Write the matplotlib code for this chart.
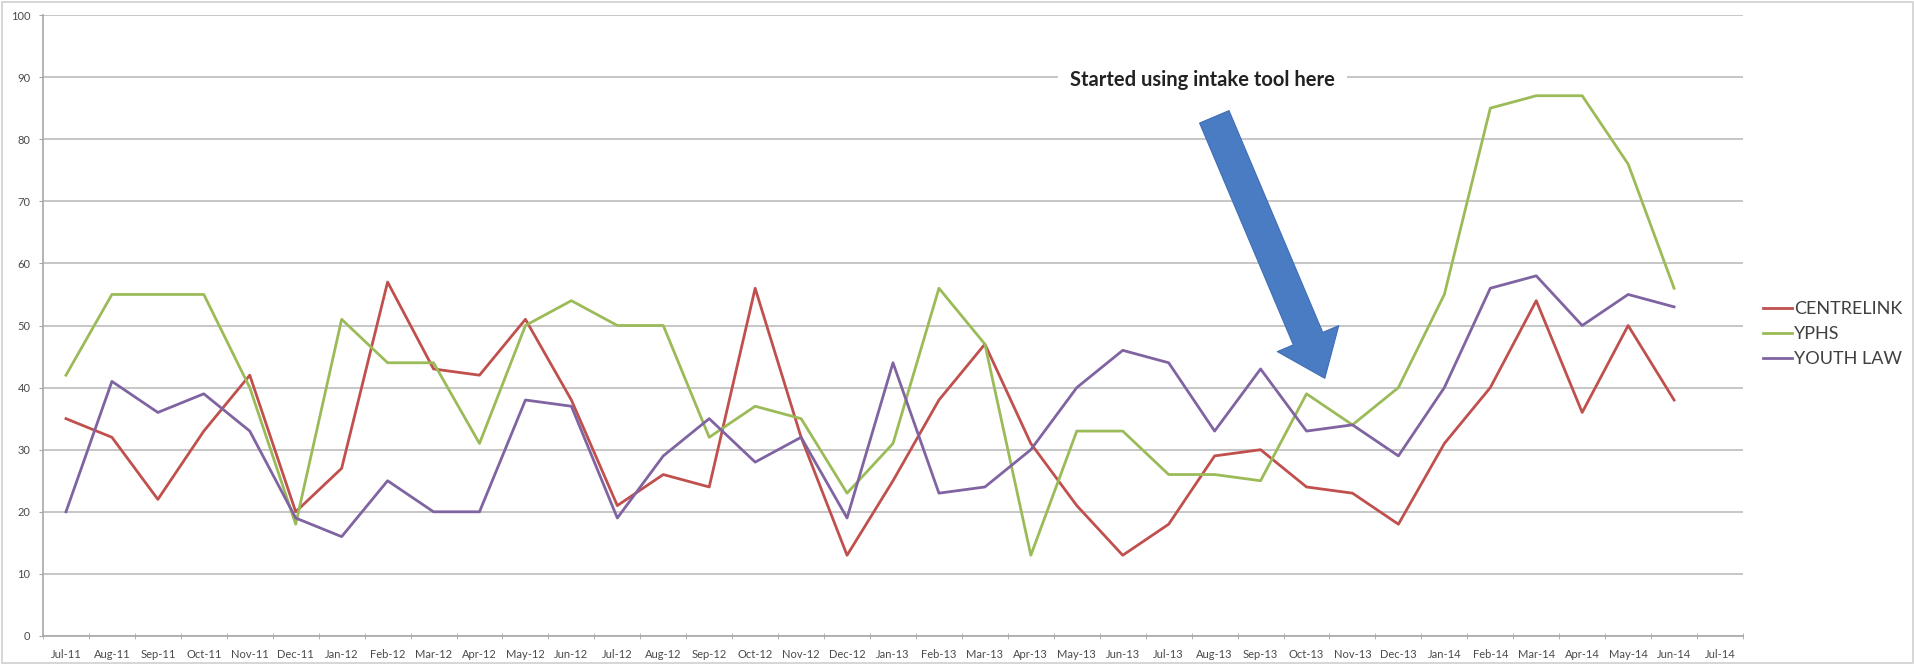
import matplotlib
matplotlib.use("Agg")
import matplotlib.pyplot as plt
from matplotlib.patches import Rectangle

plt.rcParams['font.family'] = ['Lato', 'DejaVu Sans']

# months shown on the category axis
months = ['Jul-11', 'Aug-11', 'Sep-11', 'Oct-11', 'Nov-11', 'Dec-11',
          'Jan-12', 'Feb-12', 'Mar-12', 'Apr-12', 'May-12', 'Jun-12',
          'Jul-12', 'Aug-12', 'Sep-12', 'Oct-12', 'Nov-12', 'Dec-12',
          'Jan-13', 'Feb-13', 'Mar-13', 'Apr-13', 'May-13', 'Jun-13',
          'Jul-13', 'Aug-13', 'Sep-13', 'Oct-13', 'Nov-13', 'Dec-13',
          'Jan-14', 'Feb-14', 'Mar-14', 'Apr-14', 'May-14', 'Jun-14',
          'Jul-14']

centrelink = [35, 32, 22, 33, 42, 20, 27, 57, 43, 42, 51, 38,
              21, 26, 24, 56, 32, 13, 25, 38, 47, 31, 21, 13,
              18, 29, 30, 24, 23, 18, 31, 40, 54, 36, 50, 38]
yphs = [42, 55, 55, 55, 40, 18, 51, 44, 44, 31, 50, 54,
        50, 50, 32, 37, 35, 23, 31, 56, 47, 13, 33, 33,
        26, 26, 25, 39, 34, 40, 55, 85, 87, 87, 76, 56]
youth_law = [20, 41, 36, 39, 33, 19, 16, 25, 20, 20, 38, 37,
             19, 29, 35, 28, 32, 19, 44, 23, 24, 30, 40, 46,
             44, 33, 43, 33, 34, 29, 40, 56, 58, 50, 55, 53]

series = [('CENTRELINK', centrelink, '#c0504d'),
          ('YPHS', yphs, '#9bbb59'),
          ('YOUTH LAW', youth_law, '#8064a2')]

fig = plt.figure(figsize=(19.15, 6.64), dpi=100)
ax = fig.add_axes([43 / 1915, 28 / 664, 1700 / 1915, 621 / 664])

for name, vals, col in series:
    ax.plot(range(len(vals)), vals, color=col, lw=2.0, label=name)

ax.set_xlim(-0.5, len(months) - 0.5)
ax.set_ylim(0, 100)
ax.set_yticks(range(0, 101, 10))
ax.set_xticks(range(len(months)))
ax.set_xticklabels(months)
ax.set_xticks([i + 0.5 for i in range(-1, len(months))], minor=True)

ax.grid(axis='y', color='#c2c2c2', lw=1.3)
ax.set_axisbelow(True)
for s in ['top', 'right']:
    ax.spines[s].set_visible(False)
for s in ['left', 'bottom']:
    ax.spines[s].set_color('#a8a8a8')
    ax.spines[s].set_linewidth(1.2)

ax.tick_params(axis='x', which='major', length=0, pad=9, labelsize=8,
               labelcolor='#4a4a4a')
ax.tick_params(axis='x', which='minor', length=4, direction='inout',
               color='#a8a8a8')
ax.tick_params(axis='y', length=3, color='#a8a8a8', pad=6, labelsize=8,
               labelcolor='#4a4a4a')

# note + block arrow
ax.text(0.682, 0.895, 'Started using intake tool here', transform=ax.transAxes,
        ha='center', va='center', fontsize=14.5, fontweight='bold', color='#222222',
        bbox=dict(boxstyle='square,pad=0.6', fc='white', ec='none'))
ax.annotate('', xy=(0.754, 0.415), xycoords='axes fraction',
            xytext=(0.689, 0.836), textcoords='axes fraction',
            arrowprops=dict(arrowstyle='simple,head_length=3.1,head_width=4.8,tail_width=2.3',
                            mutation_scale=10, fc='#4a7cc4', ec='#3f6eb4', lw=0.8,
                            shrinkA=0, shrinkB=0))

fig.legend(loc='center left', bbox_to_anchor=(1763 / 1915, 330 / 664),
           frameon=False, fontsize=13, handlelength=1.6, handletextpad=0.1,
           labelspacing=0.5, borderpad=0, borderaxespad=0, labelcolor='#404040')

fig.patches.append(Rectangle((0.001, 0.001), 0.998, 0.996, transform=fig.transFigure,
                             fill=False, ec='#cfcfcf', lw=1.2))

fig.savefig('out.png', dpi=100, facecolor='white')
